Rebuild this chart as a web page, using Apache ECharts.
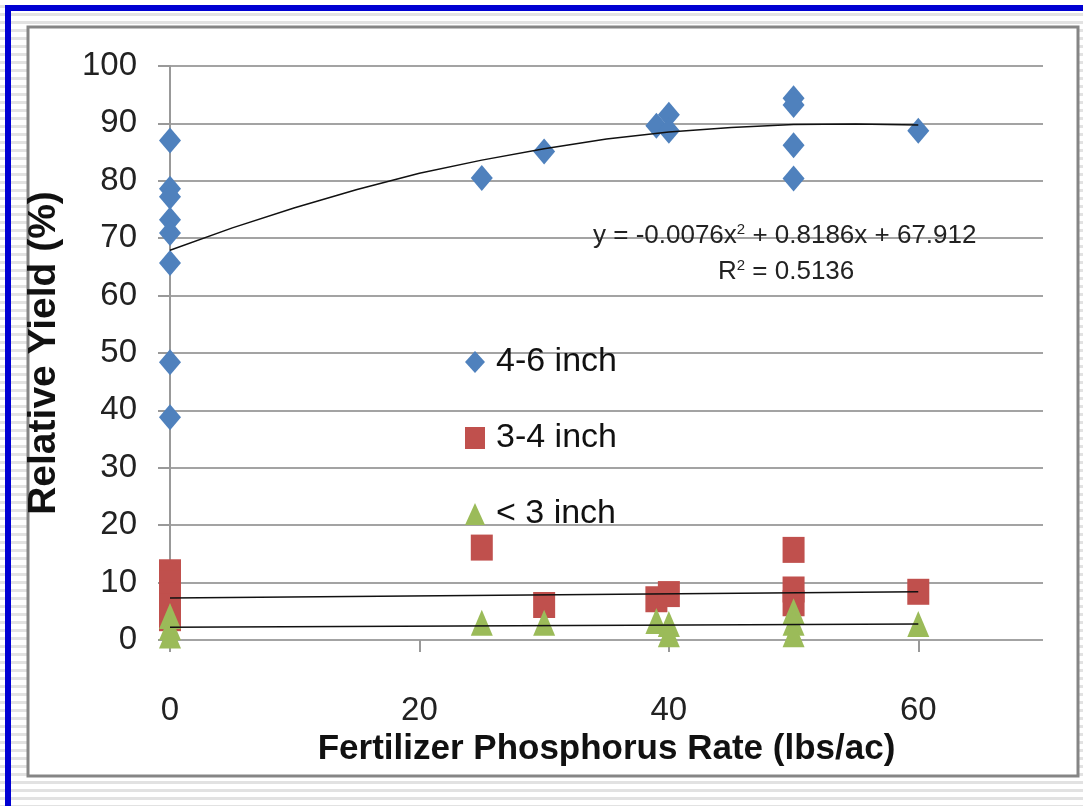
<!DOCTYPE html>
<html>
<head>
<meta charset="utf-8">
<script src="https://cdn.jsdelivr.net/npm/echarts@6/dist/echarts.min.js"></script>
<style>
  html, body { margin: 0; padding: 0; }
  body {
    width: 1083px; height: 806px;
    background: repeating-linear-gradient(to bottom, #ffffff 0px, #ffffff 5px, #e2e2e2 5px, #e2e2e2 8px);
  }
  #main { width: 1083px; height: 806px; }
</style>
</head>
<body>
<div id="main"></div>
<script>
// 横轴刻度
const rateTicks = [0, 20, 40, 60]
// 4-6 inch
const rate46 = [0, 0, 0, 0, 0, 0, 0, 0, 25, 30, 39, 40, 40, 50, 50, 50, 50, 60]
const yield46 = [87, 78.6, 77.2, 73.2, 70.9, 65.7, 48.4, 38.8, 80.5, 85.1, 89.6, 91.5, 88.7, 94.4, 93.2, 86.2, 80.4, 88.7]
// 3-4 inch
const rate34 = [0, 0, 0, 0, 0, 25, 30, 39, 40, 50, 50, 50, 60]
const yield34 = [11.8, 9.8, 7.8, 5.8, 3.8, 16.1, 6.1, 7.1, 8.0, 15.7, 8.8, 6.4, 8.4]
// < 3 inch
const rateLt3 = [0, 0, 0, 25, 30, 39, 40, 40, 50, 50, 50, 60]
const yieldLt3 = [4.2, 2.2, 0.8, 3.0, 3.0, 3.3, 2.8, 1.0, 5.0, 3.0, 1.0, 2.8]
// 趋势线（从图上读的点）
const trendX46 = [0, 5, 10, 15, 20, 25, 30, 35, 40, 45, 50, 55, 60]
const trendY46 = [67.9, 71.8, 75.3, 78.5, 81.3, 83.6, 85.6, 87.3, 88.5, 89.3, 89.8, 89.9, 89.7]
const trendX34 = [0, 60]
const trendY34 = [7.3, 8.4]
const trendXLt3 = [0, 60]
const trendYLt3 = [2.2, 2.8]

const font = "'Liberation Sans', Arial, sans-serif"
const pairs = (xs, ys) => xs.map((x, i) => [x, ys[i]])

const myChart = echarts.init(document.querySelector('#main'))

function scatter(name, xs, ys, symbol, color) {
  return {
    name,
    type: 'scatter',
    data: pairs(xs, ys),
    symbol,
    symbolSize: [22, 26],
    itemStyle: { color, opacity: 1 },
    z: 3
  }
}

function trend(xs, ys) {
  return {
    type: 'line',
    data: pairs(xs, ys),
    showSymbol: false,
    symbol: 'none',
    silent: true,
    lineStyle: { color: '#111', width: 1.5 },
    z: 5
  }
}

const option = {
  backgroundColor: 'transparent',
  animation: false,
  graphic: [
    // 蓝色外框
    { type: 'rect', shape: { x: 5, y: 5, width: 1078, height: 6 }, style: { fill: '#0000d2' }, z: -2 },
    { type: 'rect', shape: { x: 5, y: 5, width: 6, height: 801 }, style: { fill: '#0000d2' }, z: -2 },
    // 灰色图框
    { type: 'rect', shape: { x: 28, y: 27, width: 1050, height: 749 }, style: { fill: '#fff', stroke: '#858585', lineWidth: 3 }, z: -1 },
    {
      type: 'text',
      left: 593,
      top: 222,
      z: 10,
      style: {
        text: 'y = -0.0076x{s|2} + 0.8186x + 67.912',
        font: '26px ' + font,
        fill: '#222',
        rich: { s: { fontSize: 15, verticalAlign: 'top', padding: [0, 0, 12, 0], fill: '#222' } }
      }
    },
    {
      type: 'text',
      left: 718,
      top: 258,
      z: 10,
      style: {
        text: 'R{s|2} = 0.5136',
        font: '26px ' + font,
        fill: '#222',
        rich: { s: { fontSize: 15, padding: [0, 0, 12, 0], fill: '#222' } }
      }
    }
  ],
  grid: {
    left: 170,
    right: 40,
    top: 66,
    bottom: 166
  },
  legend: {
    data: ['4-6 inch', '3-4 inch', '< 3 inch'],
    orient: 'vertical',
    left: 460,
    top: 340,
    itemWidth: 20,
    itemHeight: 22,
    itemGap: 42,
    textStyle: { fontFamily: font, fontSize: 34, color: '#111', padding: [0, 0, 0, 6] }
  },
  xAxis: {
    type: 'value',
    min: 0,
    max: 70,
    interval: 20,
    name: 'Fertilizer Phosphorus Rate (lbs/ac)',
    nameLocation: 'middle',
    nameGap: 88,
    nameTextStyle: { fontFamily: font, fontSize: 35, fontWeight: 'bold', color: '#111' },
    axisLine: { show: false },
    axisTick: { show: true, length: 12, customValues: rateTicks, lineStyle: { color: '#999', width: 2 } },
    axisLabel: { customValues: rateTicks, margin: 54, fontFamily: font, fontSize: 33, color: '#222' },
    splitLine: { show: false }
  },
  yAxis: {
    type: 'value',
    min: 0,
    max: 100,
    interval: 10,
    name: 'Relative Yield (%)',
    nameLocation: 'middle',
    nameGap: 106,
    nameTextStyle: { fontFamily: font, fontSize: 39, fontWeight: 'bold', color: '#111' },
    axisLine: { show: true, lineStyle: { color: '#999', width: 2 } },
    axisTick: { show: true, length: 12, lineStyle: { color: '#999', width: 2 } },
    axisLabel: { margin: 33, fontFamily: font, fontSize: 33, color: '#222' },
    splitLine: { show: true, lineStyle: { color: '#a3a3a3', width: 2 } }
  },
  series: [
    scatter('4-6 inch', rate46, yield46, 'diamond', '#4F81BD'),
    scatter('3-4 inch', rate34, yield34, 'rect', '#C0504D'),
    scatter('< 3 inch', rateLt3, yieldLt3, 'triangle', '#9BBB59'),
    trend(trendX46, trendY46),
    trend(trendX34, trendY34),
    trend(trendXLt3, trendYLt3)
  ]
}

myChart.setOption(option)
</script>
</body>
</html>
